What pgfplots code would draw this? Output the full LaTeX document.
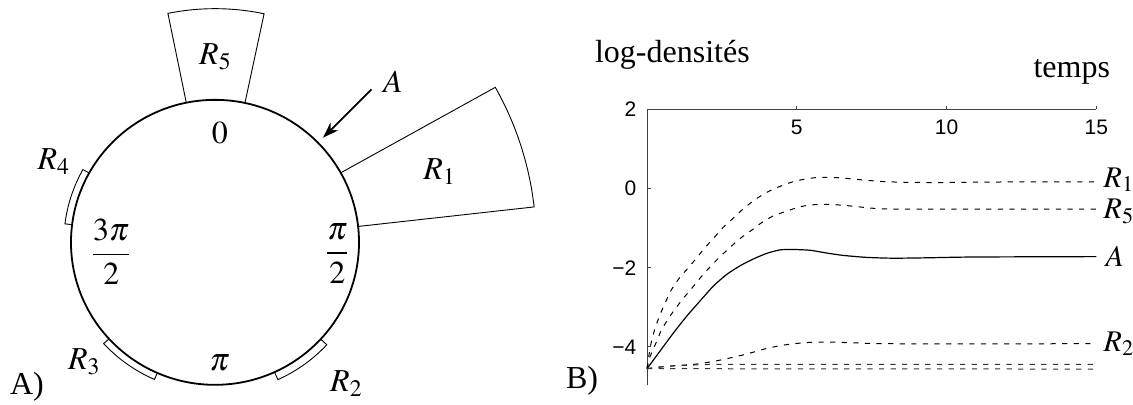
\documentclass[border=0pt]{standalone}
\usepackage{amsmath}
\usepackage{mathptmx}
\usepackage{fontspec}
\setmainfont{Liberation Serif}
\setsansfont{Liberation Sans}
\usepackage{pgfplots}
\pgfplotsset{compat=1.18}
\usetikzlibrary{arrows.meta}

% sector on the circle: angles clockwise from the top, outer radius
\newcommand\sector[3]{%
  \draw[line width=0.45pt] (axis cs:{sin(#1)},{cos(#1)})
    -- (axis cs:{#3*sin(#1)},{#3*cos(#1)})
    arc[start angle={90-#1}, end angle={90-#2}, x radius=#3, y radius=#3]
    -- (axis cs:{sin(#2)},{cos(#2)});}

\newcommand\lbl{\fontsize{16}{19}\selectfont}
\newcommand\rlbl{\fontsize{15}{18}\selectfont}

\begin{document}
\begin{tikzpicture}
\path[use as bounding box] (0,0) rectangle (566.5pt,-202pt);

% ---------- A) ring of regions
\begin{axis}[
  at={(0pt,-206.65pt)}, anchor=south west,
  scale only axis, width=287.5pt, height=206.6pt,
  xmin=-1.493, xmax=2.5, ymin=-1.2, ymax=1.7,
  axis lines=none, clip=false,
]
\draw[line width=0.9pt] (axis cs:0,0) ellipse [x radius=1, y radius=1];
\sector{-11.5}{12}{1.64}
\sector{60.8}{83.6}{2.23}
\sector{132.8}{155.6}{1.058}
\sector{203.6}{227.4}{1.05}
\sector{277.1}{299.1}{1.05}
\draw[-{Stealth[length=8pt,width=5.5pt]}, line width=0.9pt]
  (axis cs:1.087,1.074) -- (axis cs:0.75,0.734);
\node[font=\lbl] at (axis cs:1.236,1.127) {$A$};
\node[font=\lbl] at (axis cs:0.003,1.30) {$R_5$};
\node[font=\lbl] at (axis cs:1.56,0.495) {$R_1$};
\node[font=\lbl] at (axis cs:-1.119,0.566) {$R_4$};
\node[font=\lbl] at (axis cs:-0.907,-0.838) {$R_3$};
\node[font=\lbl] at (axis cs:0.9125,-0.99) {$R_2$};
\node[font=\lbl] at (axis cs:0.033,0.765) {$0$};
\node[font=\lbl] at (axis cs:0.85,-0.077) {$\dfrac{\pi}{2}$};
\node[font=\lbl] at (axis cs:-0.72,-0.066) {$\dfrac{3\pi}{2}$};
\node[font=\lbl] at (axis cs:0.033,-0.849) {$\pi$};
\node[font=\lbl] at (axis cs:-1.306,-1.013) {A)};
\end{axis}

% ---------- B) log-densities over time
\node[font=\lbl, anchor=base west] at (294pt,-31.4pt) {log-densités};
\node[font=\lbl, anchor=base east] at (558.5pt,-38.5pt) {temps};
\node[font=\lbl] at (291pt,-190.5pt) {B)};

\begin{axis}[
  at={(323.5pt,-192.25pt)}, anchor=south west,
  scale only axis, width=224.65pt, height=137.6pt,
  xmin=0, xmax=15, ymin=-4.95, ymax=2,
  axis x line*=top, axis y line*=left,
  axis line style={black!75, line width=0.5pt},
  xtick={5,10,15}, xticklabels={5,10,15},
  ytick={-4,-2,0,2}, yticklabels={−4,−2,0,2},
  tick align=outside, major tick length=1.8pt,
  every tick/.style={black!75, line width=0.5pt},
  y tick style={xshift=1.8pt},
  ticklabel style={font=\fontsize{10.5}{12}\sffamily},
  xticklabel style={anchor=north, yshift=-3.5pt},
  clip=false,
]
% R1
\addplot[black, line width=0.5pt, dash pattern=on 2.6pt off 3.2pt, smooth, tension=0.4] coordinates {
  (0,-4.55) (0.08,-4.14) (0.16,-3.82) (0.29,-3.48) (0.46,-3.14) (0.63,-2.85)
  (0.82,-2.55) (1.09,-2.25) (1.38,-2.0) (1.66,-1.75) (1.94,-1.49) (2.24,-1.24)
  (2.53,-0.99) (2.85,-0.77) (3.16,-0.55) (3.55,-0.31) (3.94,-0.12) (4.33,0.02)
  (4.78,0.15) (5.22,0.23) (5.72,0.28) (6.44,0.27) (7.0,0.23) (7.78,0.18)
  (8.45,0.16) (9.5,0.15) (11,0.16) (13,0.17) (15,0.17)
};
% R5
\addplot[black, line width=0.5pt, dash pattern=on 2.6pt off 3.2pt, smooth, tension=0.4] coordinates {
  (0,-4.55) (0.1,-4.25) (0.3,-3.9) (0.49,-3.56) (0.77,-3.22) (1.01,-2.97)
  (1.27,-2.72) (1.55,-2.47) (1.83,-2.21) (2.13,-1.96) (2.44,-1.72) (2.77,-1.49)
  (3.11,-1.26) (3.5,-1.05) (3.83,-0.86) (4.22,-0.69) (4.67,-0.57) (5.11,-0.46)
  (5.56,-0.41) (6.11,-0.40) (6.78,-0.44) (7.56,-0.50) (8.23,-0.52) (10,-0.52)
  (15,-0.52)
};
% A
\addplot[black, line width=0.6pt, smooth, tension=0.4] coordinates {
  (0,-4.55) (0.43,-4.11) (0.88,-3.65) (1.33,-3.22) (1.77,-2.84) (2.22,-2.46)
  (2.66,-2.17) (3.11,-1.95) (3.55,-1.78) (3.99,-1.64) (4.44,-1.55) (4.89,-1.54)
  (5.45,-1.56) (6.0,-1.63) (6.56,-1.69) (7.34,-1.74) (8.23,-1.76) (9.35,-1.75)
  (10.9,-1.73) (15,-1.72)
};
% R2
\addplot[black, line width=0.5pt, dash pattern=on 2.6pt off 3.2pt, smooth, tension=0.4] coordinates {
  (0,-4.55) (0.55,-4.5) (0.99,-4.47) (1.44,-4.45) (1.88,-4.41) (2.33,-4.35)
  (2.77,-4.28) (3.22,-4.20) (3.66,-4.11) (3.99,-4.04) (4.44,-3.97) (4.89,-3.92)
  (5.56,-3.88) (6.22,-3.88) (7.0,-3.90) (8.1,-3.92) (15,-3.92)
};
% R3
\addplot[black!80, line width=0.5pt, dash pattern=on 2.6pt off 3.2pt, smooth, tension=0.4] coordinates {
  (0,-4.55) (0.5,-4.5) (1.5,-4.46) (3,-4.44) (15,-4.44)
};
% R4
\addplot[black!80, line width=0.5pt, dash pattern=on 2.6pt off 3.2pt] coordinates {
  (0,-4.55) (15,-4.56)
};
\node[font=\rlbl, anchor=west, inner sep=0pt, xshift=3.5pt, yshift=1pt] at (axis cs:15,0.17) {$R_1$};
\node[font=\rlbl, anchor=west, inner sep=0pt, xshift=3.5pt, yshift=-1pt] at (axis cs:15,-0.52) {$R_5$};
\node[font=\rlbl, anchor=west, inner sep=0pt, xshift=4.5pt] at (axis cs:15,-1.72) {$A$};
\node[font=\rlbl, anchor=west, inner sep=0pt, xshift=3.5pt] at (axis cs:15,-3.92) {$R_2$};
\end{axis}
\end{tikzpicture}
\end{document}
